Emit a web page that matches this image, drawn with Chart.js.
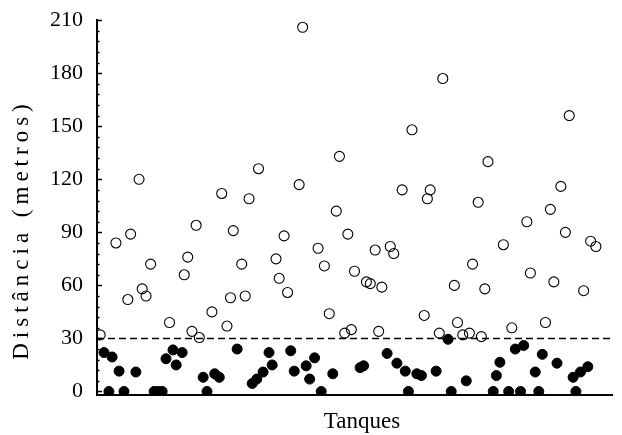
<!DOCTYPE html>
<html>
<head>
<meta charset="utf-8">
<script src="https://cdn.jsdelivr.net/npm/chart.js@4/dist/chart.umd.min.js"></script>
<style>
  body { margin: 0; background: #fff; }
  #wrap { width: 622px; height: 435px; }
</style>
</head>
<body>
<div id="wrap"><canvas id="tanques"></canvas></div>
<script>
// tanques com distância > 30 m (círculos abertos)
const openX = [0.9,5.4,8.8,9.6,12,12.9,14,15.3,20.7,24.9,25.9,27.1,28.3,29.2,32.8,35.6,37.1,38.1,38.9,41.3,42.3,43.4,46.1,51.1,52,53.4,54.4,57.7,58.7,63.1,64.9,66.3,68.3,69.2,70.7,71.6,72.6,73.5,76.9,78,79.4,80.4,81.3,83.7,84.7,87.1,89.9,93.4,94.3,95.1,97.7,98.7,102,102.9,104.4,106.3,107.2,108.8,109.7,110.7,111.6,116,118.4,122.7,123.7,128,129.4,130.4,132.4,133.7,134.8,138.9,140.9,142.4];
const openY = [32,84,52,89,120,58,54,72,39,66,76,34,94,30.5,45,112,37,53,91,72,54,109,126,75,64,88,56,117,206,81,71,44,102,133,33,89,35,68,62,61,80,34,59,82,78,114,148,43,109,114,33,177,60,39,32,33,72,107,31,58,130,83,36,96,67,39,103,62,116,90,156,57,85,82];

// tanques com distância < 30 m (círculos cheios)
const filledX = [2,3.4,4.3,6.3,7.7,11.1,16.3,17.4,18.6,19.7,21.7,22.6,24.3,30.3,31.4,33.6,34.9,40,44.3,45.6,47.4,49.1,50,55.3,56.3,59.7,60.7,62.1,64,67.3,75.1,76.1,82.8,85.6,88,88.9,91.3,92.6,96.8,100.2,101.1,105.4,113.1,114,115,117.5,119.4,120.9,121.8,125.1,126.1,127.1,131.3,135.9,136.7,138,140.1];
const filledY = [22,0,19.5,11.5,0,11,0,0,0,18.5,23.5,15,22,8,0,10,8,24,4.5,7,11,22,15,23,11.5,14.5,7,19,0,10,13.5,14.5,21.5,16,11.5,0,10,9,11.5,29.5,0,6,0,9,16.5,0,24,0,26,11,0,21,16,8,0,11,14];

const yTicks = [0,30,60,90,120,150,180,210];
const threshold = 30;
const xMax = 147;
const yTitle = "Distância (metros)";
const xTitle = "Tanques";

const serif = "'Liberation Serif', 'Times New Roman', serif";

// inward tick marks on the y axis + both axis titles
const axisExtras = {
  id: 'axisExtras',
  afterDraw(chart) {
    const ctx = chart.ctx;
    const y = chart.scales.y;
    ctx.save();
    ctx.strokeStyle = '#000';
    ctx.lineWidth = 1.5;
    for (let v = 0; v <= 210; v += 6) {
      const py = Math.round(y.getPixelForValue(v)) + 0.5;
      const len = v % 30 === 0 ? 5 : 2.5;
      ctx.beginPath();
      ctx.moveTo(y.right, py);
      ctx.lineTo(y.right + len, py);
      ctx.stroke();
    }
    ctx.fillStyle = '#000';
    ctx.font = "23px " + serif;
    ctx.textAlign = 'center';
    ctx.textBaseline = 'alphabetic';
    ctx.fillText(xTitle, 362, 428);

    ctx.translate(22, 232);
    ctx.rotate(-Math.PI / 2);
    ctx.letterSpacing = "5px";
    ctx.textBaseline = 'middle';
    ctx.fillText(yTitle, 2.5, 0);
    ctx.restore();
  }
};

new Chart("tanques", {
  type: "scatter",
  data: {
    datasets: [{
      data: openX.map((x, i) => ({x: x, y: openY[i]})),
      pointRadius: 5,
      borderWidth: 1.1,
      borderColor: "#000",
      backgroundColor: "rgba(0,0,0,0)"
    }, {
      data: filledX.map((x, i) => ({x: x, y: filledY[i]})),
      pointRadius: 5,
      borderWidth: 1,
      borderColor: "#000",
      backgroundColor: "#000"
    }, {
      type: "line",
      data: [{x: 0, y: threshold}, {x: xMax, y: threshold}],
      borderColor: "#000",
      borderWidth: 1.5,
      borderDash: [7, 4],
      pointRadius: 0,
      fill: false
    }]
  },
  options: {
    responsive: true,
    maintainAspectRatio: false,
    animation: false,
    events: [],
    layout: {padding: {left: 0, right: 10, top: 0, bottom: 0}},
    plugins: {legend: {display: false}, tooltip: {enabled: false}},
    scales: {
      x: {
        type: "linear",
        min: 0,
        max: xMax,
        grid: {display: false},
        border: {display: true, color: "#000", width: 2},
        ticks: {display: false},
        afterFit: s => { s.height = 40; }
      },
      y: {
        min: -2,
        max: 210,
        afterBuildTicks: s => { s.ticks = yTicks.map(v => ({value: v})); },
        grid: {display: false, drawTicks: true, tickLength: 7},
        border: {display: true, color: "#000", width: 2},
        ticks: {color: "#000", font: {family: serif, size: 22}, padding: 7},
        afterFit: s => { s.width = 97; }
      }
    }
  },
  plugins: [axisExtras]
});
</script>
</body>
</html>
